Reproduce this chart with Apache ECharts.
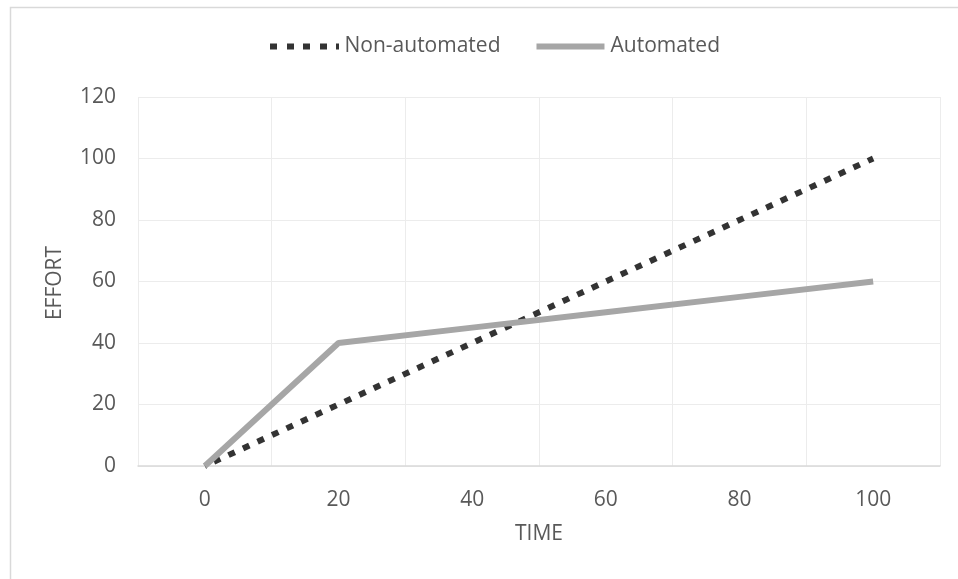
<!DOCTYPE html>
<html>
<head>
<meta charset="utf-8">
<script src="https://cdn.jsdelivr.net/npm/echarts@6/dist/echarts.min.js"></script>
<style>
  html, body { margin: 0; padding: 0; background: #ffffff; }
  #chart { width: 958px; height: 579px; }
</style>
</head>
<body>
<div id="chart"></div>
<script>
// Time points on the horizontal axis
const timeCategories = ['0', '20', '40', '60', '80', '100'];
// Effort over time for each approach
const nonAutomated = [0, 20, 40, 60, 80, 100];
const automated = [0, 40, 45, 50, 55, 60];
const seriesNames = ['Non-automated', 'Automated'];
const xTitle = 'TIME';
const yTitle = 'EFFORT';

const FONT = '"Open Sans", "Noto Sans", sans-serif';
const TEXT = '#595959';
const FS = 21;
const DARK = '#333333';
const GREY = '#a6a6a6';

// Legend keys: a row of square dots, and a solid bar
const dottedKey = 'path://M0,0h7v6h-7zM17,0h7v6h-7zM33,0h7v6h-7zM50,0h7v6h-7zM66,0h3v6h-3z';
const solidKey = 'path://M0,0h68v6h-68z';

const chart = echarts.init(document.getElementById('chart'), null, { renderer: 'canvas' });

chart.setOption({
  animation: false,
  backgroundColor: '#ffffff',
  graphic: [
    {
      type: 'rect',
      left: 8, top: 5,
      shape: { width: 970, height: 600 },
      style: { fill: 'none', stroke: '#d9d9d9', lineWidth: 1.5 },
      silent: true
    },
    {
      // vertical axis title, rotated to read bottom-to-top
      type: 'text',
      x: 55, y: 283,
      rotation: Math.PI / 2,
      style: {
        text: yTitle,
        fill: TEXT,
        font: FS + 'px ' + FONT,
        align: 'center',
        verticalAlign: 'middle'
      },
      silent: true
    }
  ],
  legend: {
    data: [
      { name: seriesNames[0], icon: dottedKey, itemStyle: { color: DARK } },
      { name: seriesNames[1], icon: solidKey, itemStyle: { color: GREY } }
    ],
    top: 31,
    left: 265,
    itemWidth: 70,
    itemHeight: 6,
    itemGap: 36,
    textStyle: { color: TEXT, fontFamily: FONT, fontSize: FS }
  },
  grid: { left: 138, right: 18, top: 97, bottom: 113, containLabel: false },
  xAxis: {
    type: 'category',
    data: timeCategories,
    boundaryGap: true,
    name: xTitle,
    nameLocation: 'middle',
    nameGap: 58,
    nameTextStyle: { color: TEXT, fontFamily: FONT, fontSize: FS },
    axisLine: { show: true, lineStyle: { color: '#d9d9d9', width: 1.5 } },
    axisTick: { show: false },
    axisLabel: { color: TEXT, fontFamily: FONT, fontSize: FS, margin: 24 },
    splitLine: { show: true, lineStyle: { color: '#ececec', width: 1 } }
  },
  yAxis: {
    type: 'value',
    min: 0, max: 120, interval: 20,
    axisLine: { show: false },
    axisTick: { show: false },
    axisLabel: { color: TEXT, fontFamily: FONT, fontSize: FS, margin: 22 },
    splitLine: { show: true, lineStyle: { color: '#ececec', width: 1 } }
  },
  series: [
    {
      name: seriesNames[0],
      type: 'line',
      data: nonAutomated,
      symbol: 'none',
      color: DARK,
      lineStyle: { color: DARK, width: 6, type: [7, 9], dashOffset: 6, cap: 'butt' },
      z: 2
    },
    {
      name: seriesNames[1],
      type: 'line',
      data: automated,
      symbol: 'none',
      color: GREY,
      lineStyle: { color: GREY, width: 6, cap: 'butt' },
      z: 3
    }
  ]
});
</script>
</body>
</html>
